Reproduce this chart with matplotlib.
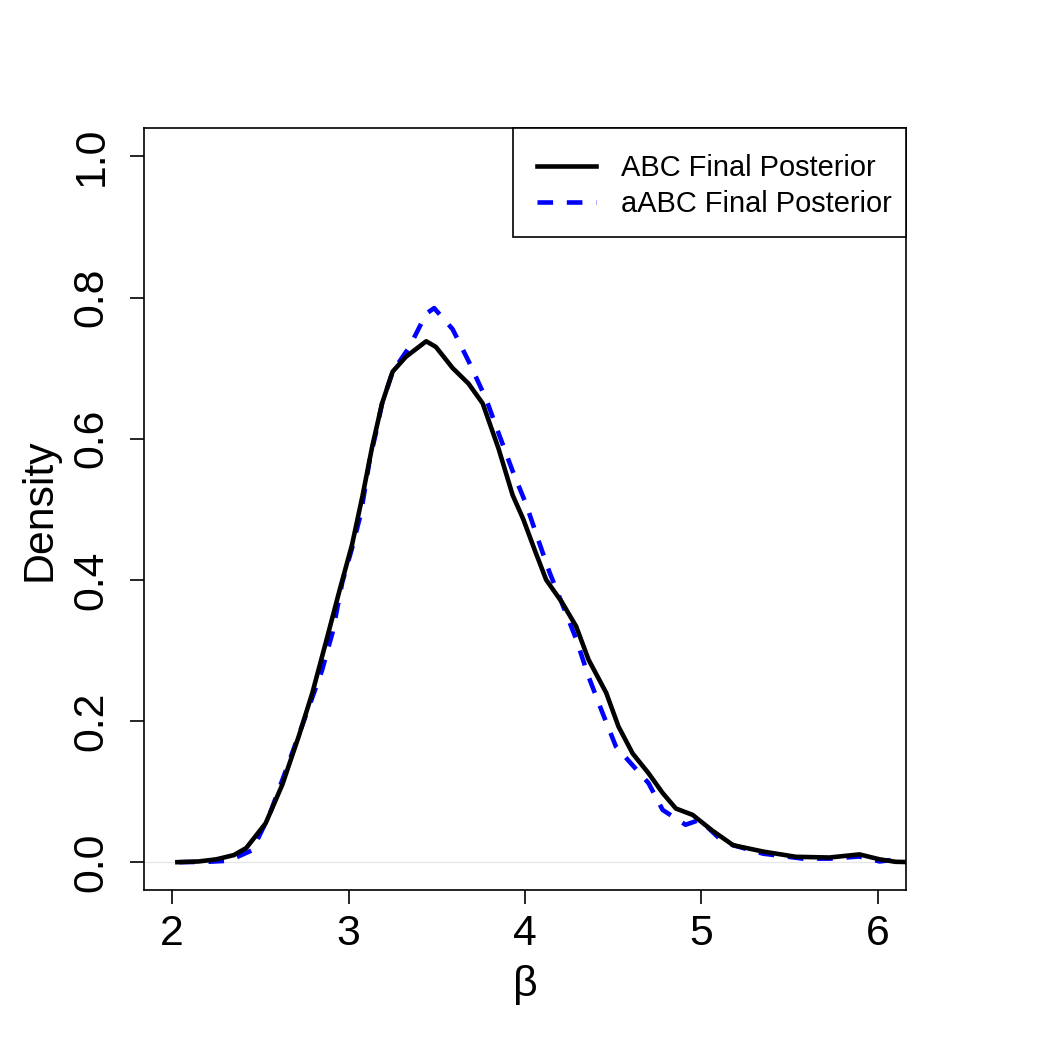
"""Posterior density comparison: ABC vs aABC final posterior for beta."""

import matplotlib
matplotlib.use('Agg')
import matplotlib.pyplot as plt
from matplotlib.patches import Rectangle

plt.rcParams['font.family'] = ['Liberation Sans', 'DejaVu Sans']

# values
abc_x = [2.03, 2.15, 2.25, 2.35, 2.42, 2.53, 2.625, 2.72, 2.795, 2.87, 2.95,
         3.02, 3.08, 3.135, 3.19, 3.25, 3.325, 3.44, 3.495, 3.59, 3.68, 3.76,
         3.85, 3.93, 3.99, 4.06, 4.12, 4.21, 4.29, 4.36, 4.46, 4.53, 4.61,
         4.70, 4.78, 4.855, 4.95, 5.06, 5.18, 5.35, 5.535, 5.725, 5.895, 6.01,
         6.10, 6.2]
abc_y = [0.0, 0.001, 0.004, 0.01, 0.02, 0.055, 0.11, 0.18, 0.24, 0.31, 0.386,
         0.45, 0.52, 0.59, 0.65, 0.695, 0.716, 0.738, 0.73, 0.70, 0.678, 0.65,
         0.586, 0.52, 0.486, 0.439, 0.40, 0.368, 0.334, 0.287, 0.24, 0.192,
         0.154, 0.126, 0.098, 0.076, 0.067, 0.045, 0.024, 0.015, 0.0076,
         0.0066, 0.011, 0.004, 0.0005, 0.0]

aabc_x = [2.04, 2.2, 2.32, 2.455, 2.55, 2.645, 2.78, 2.85, 2.91, 2.965, 3.02,
          3.07, 3.12, 3.155, 3.19, 3.25, 3.345, 3.44, 3.485, 3.59, 3.68, 3.78,
          3.85, 3.93, 4.005, 4.08, 4.14, 4.23, 4.29, 4.36, 4.44, 4.515, 4.65,
          4.70, 4.78, 4.91, 4.99, 5.10, 5.18, 5.35, 5.575, 5.725, 5.895, 6.01,
          6.14]
aabc_y = [0.0, 0.0005, 0.002, 0.017, 0.066, 0.13, 0.223, 0.272, 0.326, 0.397,
          0.445, 0.494, 0.57, 0.608, 0.65, 0.695, 0.73, 0.777, 0.785, 0.755,
          0.71, 0.656, 0.608, 0.554, 0.508, 0.453, 0.41, 0.354, 0.316, 0.263,
          0.211, 0.164, 0.126, 0.112, 0.074, 0.053, 0.06, 0.034, 0.024, 0.012,
          0.005, 0.005, 0.008, 0.001, 0.005]

labels = ['ABC Final Posterior', 'aABC Final Posterior']
x_ticks = [2, 3, 4, 5, 6]
y_ticks = [0.0, 0.2, 0.4, 0.6, 0.8, 1.0]


def main():
    fig = plt.figure(figsize=(7, 7), dpi=150)
    ax = fig.add_axes([0.137, 0.152, 0.726, 0.726])

    ax.axhline(0, color='#e6e6e6', lw=0.6, zorder=1)
    ax.plot(abc_x, abc_y, color='black', lw=2.2, label=labels[0],
            solid_joinstyle='round', zorder=3)
    line, = ax.plot(aabc_x, aabc_y, color='blue', lw=2.2, label=labels[1],
                    dash_capstyle='butt', dash_joinstyle='round', zorder=2)
    line.set_dashes((3.4, 3.0))

    # R-style 4% padding around xlim=c(2,6), ylim=c(0,1)
    ax.set_xlim(2 - 0.16, 6 + 0.16)
    ax.set_ylim(-0.04, 1.04)

    ax.set_xticks(x_ticks)
    ax.set_xticklabels([str(t) for t in x_ticks])
    ax.set_yticks(y_ticks)
    ax.set_yticklabels([f'{t:.1f}' for t in y_ticks], rotation=90, va='center')
    ax.tick_params(direction='out', length=6.5, width=0.8, labelsize=20.5)
    ax.tick_params(axis='x', pad=5)
    ax.tick_params(axis='y', pad=9)
    for s in ax.spines.values():
        s.set_linewidth(0.8)

    ax.set_xlabel('β', fontsize=20.5, labelpad=5)
    ax.set_ylabel('Density', fontsize=20.5, labelpad=6)

    # R-style legend box: plain rectangle tucked into the top-right corner
    box = Rectangle((0.4843, 0.857), 1 - 0.4843, 0.143, transform=ax.transAxes,
                    facecolor='white', edgecolor='black', lw=0.8,
                    clip_on=False, zorder=4)
    ax.add_patch(box)
    leg = ax.legend(loc='upper right', bbox_to_anchor=(1, 0.985),
                    borderaxespad=0, frameon=False, fontsize=13.9,
                    handlelength=2.03, handletextpad=0.86, borderpad=0.5,
                    labelspacing=0.28)
    leg.set_zorder(5)

    fig.savefig('out.png', dpi=150)


if __name__ == '__main__':
    main()
